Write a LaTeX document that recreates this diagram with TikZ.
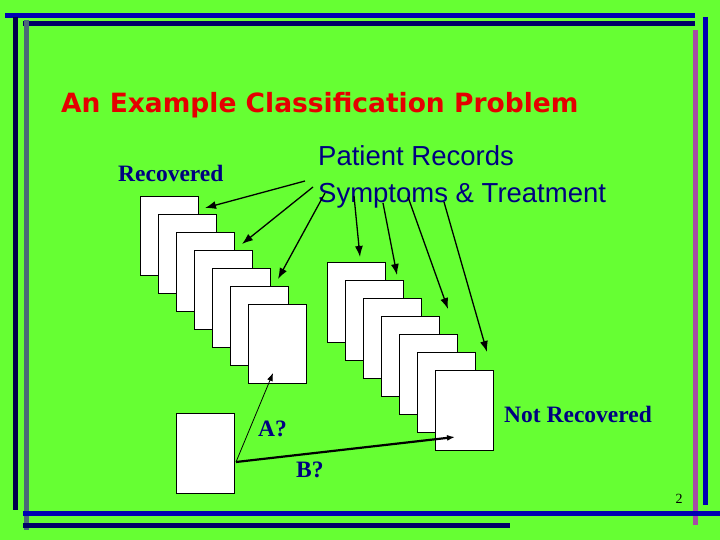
\documentclass[tikz,border=0pt]{standalone}
\usepackage{fontspec}
\usetikzlibrary{arrows.meta}
\setmainfont{Liberation Serif}
\newfontfamily\arialf{Liberation Sans}
\newfontfamily\verdf{DejaVu Sans}
\begin{document}
\begin{tikzpicture}[x=1pt,y=-1pt,
  card/.style={draw=black,fill=white,line width=0.8pt},
  arr/.style={-{Latex[length=11pt,width=8pt]},line width=1.3pt},
  lbl/.style={text=blue!50!black,font=\bfseries\fontsize{23.5}{24}\selectfont,inner sep=0pt}]
\fill[fill={rgb,255:red,102;green,255;blue,51}] (0,0) rectangle (720,540);
\useasboundingbox (0,0) rectangle (720,540);
% frame
\draw[line width=5pt,blue!70!black] (5,16) -- (695,16);
\draw[line width=5pt,black!60!blue] (23,24) -- (695,24);
\draw[line width=5pt,black!70!blue] (15,17) -- (15,510);
\draw[line width=5pt,black!60!cyan] (26,20) -- (26,530);
\draw[line width=5pt,violet!70!white] (695,30) -- (695,525);
\draw[line width=5pt,blue!70!black] (705,17) -- (705,505);
\draw[line width=5pt,blue!70!black] (23,513) -- (720,513);
\draw[line width=5pt,black!60!blue] (23,525) -- (510,525);
% texts
\node[anchor=base west,inner sep=0pt,text=red!90!black,font=\verdf\bfseries\fontsize{26.5}{27}\selectfont] (title) at (61,113) {An Example Classification Problem};
\node[anchor=base west,inner sep=0pt,text=blue!50!black,font=\arialf\fontsize{27.5}{28}\selectfont] (pr) at (318,166) {Patient Records};
\node[anchor=base west,inner sep=0pt,text=blue!50!black,font=\arialf\fontsize{27.5}{28}\selectfont] (st) at (318,203) {Symptoms \& Treatment};
\node[lbl,anchor=base west] (rec) at (118,182) {Recovered};
\node[lbl,anchor=base west] (nrec) at (504,422) {Not Recovered};
\node[lbl,anchor=base west] (a) at (258,436) {A?};
\node[lbl,anchor=base west] (b) at (296,477) {B?};
% stacks
\foreach \i in {0,...,6}{
  \node[card,minimum width=58pt,minimum height=79pt,inner sep=0pt,anchor=north west] (L\i) at (140+18*\i,196+18*\i) {};
}
\foreach \i in {0,...,6}{
  \node[card,minimum width=58pt,minimum height=80pt,inner sep=0pt,anchor=north west] (R\i) at (327+18*\i,262+18*\i) {};
}
\node[card,minimum width=58pt,minimum height=80pt,inner sep=0pt,anchor=north west] (q) at (176,413) {};
\coordinate (s1) at (305,181); \coordinate (s2) at (313,187); \coordinate (s3) at (325,193);
\coordinate (s4) at (354,196); \coordinate (s5) at (383,203); \coordinate (s6) at (408,197); \coordinate (s7) at (444,202);
\coordinate (qa) at (236,462);
\draw[arr] (s1) -- (205,208);
\draw[arr] (s2) -- (242,244);
\draw[arr] (s3) -- (278,279);
\draw[arr] (s4) -- (360,257);
\draw[arr] (s5) -- (397,275);
\draw[arr] (s6) -- (448,309);
\draw[arr] (s7) -- (487,352);
\draw[-{Latex[length=8pt,width=6pt]},line width=0.8pt] (qa) -- (273,373);
\draw[-{Latex[length=8pt,width=6pt]},line width=2.2pt] (qa) -- (455,437);
\node[anchor=base,inner sep=0pt,font=\fontsize{14}{15}\selectfont] (pg) at (679,503) {2};
\end{tikzpicture}
\end{document}
